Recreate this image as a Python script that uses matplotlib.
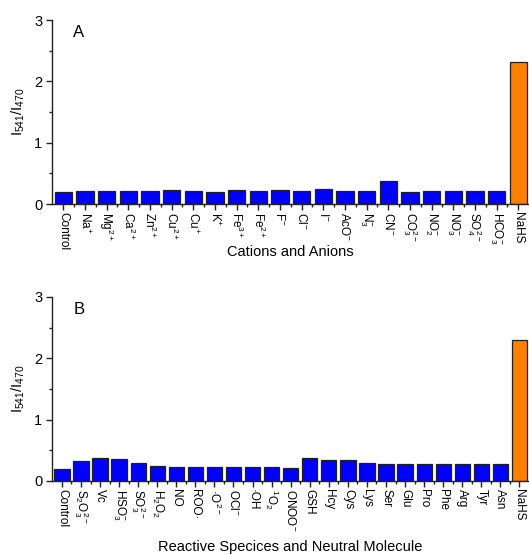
import matplotlib
matplotlib.use("Agg")
import matplotlib.pyplot as plt
from matplotlib.ticker import MultipleLocator, FixedLocator

plt.rcParams['font.family'] = ['Liberation Sans', 'DejaVu Sans']
plt.rcParams['mathtext.fontset'] = 'custom'
plt.rcParams['mathtext.rm'] = 'Liberation Sans'
plt.rcParams['mathtext.it'] = 'Liberation Sans'
plt.rcParams['mathtext.default'] = 'regular'

labels_a = ['Control', r'Na$^{+}$', r'Mg$^{2+}$', r'Ca$^{2+}$', r'Zn$^{2+}$', r'Cu$^{2+}$',
            r'Cu$^{+}$', r'K$^{+}$', r'Fe$^{3+}$', r'Fe$^{2+}$', r'F$^{-}$', r'Cl$^{-}$',
            r'I$^{-}$', r'AcO$^{-}$', r'N$_3^{-}$', r'CN$^{-}$', r'CO$_3^{2-}$', r'NO$_2^{-}$',
            r'NO$_3^{-}$', r'SO$_4^{2-}$', r'HCO$_3^{-}$', 'NaHS']
values_a = [0.20, 0.21, 0.21, 0.21, 0.22, 0.23, 0.22, 0.20, 0.23, 0.22, 0.23, 0.21,
            0.25, 0.21, 0.22, 0.38, 0.20, 0.22, 0.22, 0.22, 0.22, 2.31]

labels_b = ['Control', r'S$_2$O$_3^{2-}$', 'Vc', r'HSO$_3^{-}$', r'SO$_3^{2-}$', r'H$_2$O$_2$',
            'NO', 'ROO·', '·O$^{2-}$', r'OCl$^{-}$', '·OH', r'$^{1}$O$_2$', r'ONOO$^{-}$',
            'GSH', 'Hcy', 'Cys', 'Lys', 'Ser', 'Glu', 'Pro', 'Phe', 'Arg', 'Tyr', 'Asn', 'NaHS']
values_b = [0.20, 0.32, 0.37, 0.36, 0.30, 0.25, 0.23, 0.23, 0.23, 0.23, 0.23, 0.23, 0.22,
            0.37, 0.34, 0.35, 0.29, 0.28, 0.28, 0.28, 0.27, 0.27, 0.27, 0.28, 2.30]

xlabel_a = 'Cations and Anions'
xlabel_b = 'Reactive Specices and Neutral Molecule'
ylabel = r'I$_{541}$/I$_{470}$'

W, H = 529, 555
fig = plt.figure(figsize=(W / 100, H / 100), dpi=100)

blue = '#0000FF'
orange = '#FF8000'


def panel(rect, labels, values, xlabel, letter, xlabel_y):
    ax = fig.add_axes(rect)
    n = len(values)
    x = list(range(n))
    colors = [blue] * (n - 1) + [orange]
    ax.bar(x, values, width=0.8, color=colors, edgecolor='#202020', linewidth=0.9, zorder=2)
    ax.set_xlim(-0.52, n - 0.5)
    ax.set_ylim(0, 3)
    ax.spines['top'].set_visible(False)
    ax.spines['right'].set_visible(False)
    for s in ('left', 'bottom'):
        ax.spines[s].set_linewidth(1.0)
        ax.spines[s].set_color('#222222')
    ax.set_xticks(x)
    ax.set_xticklabels(labels, rotation=270, fontsize=8.5, va='top', ha='center')
    ax.xaxis.set_minor_locator(FixedLocator([i + 0.5 for i in range(n - 1)]))
    ax.yaxis.set_major_locator(MultipleLocator(1))
    ax.yaxis.set_minor_locator(MultipleLocator(0.5))
    ax.tick_params(axis='both', which='major', direction='out', length=4, width=1.0,
                   color='#222222')
    ax.tick_params(axis='both', which='minor', direction='out', length=2.5, width=1.0,
                   color='#222222')
    ax.tick_params(axis='y', labelsize=10.5, pad=3)
    ax.tick_params(axis='x', pad=2)
    ax.set_ylabel(ylabel, fontsize=10.5, labelpad=5)
    ax.set_xlabel(xlabel, fontsize=10.5, va='top')
    ax.xaxis.set_label_coords(0.5, xlabel_y)
    ax.text(0.045, 0.93, letter, transform=ax.transAxes, fontsize=12, va='center', ha='left')
    ax.set_facecolor('white')
    return ax


ax_a = panel([52 / W, (H - 204) / H, (W - 52) / W, 184 / H], labels_a, values_a, xlabel_a, 'A',
             -0.225)
ax_b = panel([52 / W, (H - 481) / H, (W - 52) / W, 184 / H], labels_b, values_b, xlabel_b, 'B',
             -0.32)

fig.savefig('out.png', dpi=100, facecolor='white')
